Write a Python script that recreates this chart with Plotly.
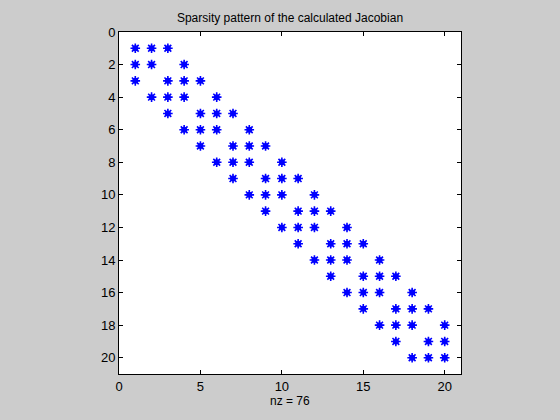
import plotly.graph_objects as go

# Sparsity pattern: column indices of non-zeros per row (rows 1..20)
row_cols = {
    1: [1, 2, 3],
    2: [1, 2, 4],
    3: [1, 3, 4, 5],
    4: [2, 3, 4, 6],
    5: [3, 5, 6, 7],
    6: [4, 5, 6, 8],
    7: [5, 7, 8, 9],
    8: [6, 7, 8, 10],
    9: [7, 9, 10, 11],
    10: [8, 9, 10, 12],
    11: [9, 11, 12, 13],
    12: [10, 11, 12, 14],
    13: [11, 13, 14, 15],
    14: [12, 13, 14, 16],
    15: [13, 15, 16, 17],
    16: [14, 15, 16, 18],
    17: [15, 17, 18, 19],
    18: [16, 17, 18, 20],
    19: [17, 19, 20],
    20: [18, 19, 20],
}
x_ticks = [0, 5, 10, 15, 20]
y_ticks = [0, 2, 4, 6, 8, 10, 12, 14, 16, 18, 20]

xs, ys = [], []
for r, cols in row_cols.items():
    for c in cols:
        xs.append(c)
        ys.append(r)
nz = len(xs)

font = "Liberation Sans, Arial, sans-serif"
fig = go.Figure()
fig.add_trace(go.Scatter(x=xs, y=ys, mode="markers",
                         marker=dict(symbol="circle", size=6, color="#0000ff",
                                     line=dict(width=0)),
                         hoverinfo="skip", showlegend=False))
fig.add_trace(go.Scatter(x=xs, y=ys, mode="markers",
                         marker=dict(symbol="asterisk-open", size=8, color="#0000ff",
                                     line=dict(width=1.6, color="#0000ff")),
                         showlegend=False))

axis_common = dict(showgrid=False, zeroline=False, showline=True, linecolor="black",
                   linewidth=1, mirror="ticks", ticks="inside", ticklen=4,
                   tickcolor="black", tickfont=dict(family=font, size=13, color="black"))
fig.update_xaxes(range=[0, 21], tickvals=x_ticks, **axis_common)
fig.update_yaxes(range=[21, 0], tickvals=y_ticks, **axis_common)

fig.update_layout(
    width=560, height=420,
    margin=dict(l=119, r=99, t=32, b=46),
    paper_bgcolor="#cccccc", plot_bgcolor="white",
    title=dict(text="Sparsity pattern of the calculated Jacobian", x=0.5, xref="paper",
               y=1 - 18 / 420, yref="container", yanchor="middle", xanchor="center",
               font=dict(family=font, size=12, color="black")),
    annotations=[dict(text=f"nz = {nz}", x=0.5, y=-27 / 342, xref="paper", yref="paper",
                      showarrow=False, xanchor="center", yanchor="middle",
                      font=dict(family=font, size=12, color="black"))],
)
fig.write_html("out.html")
